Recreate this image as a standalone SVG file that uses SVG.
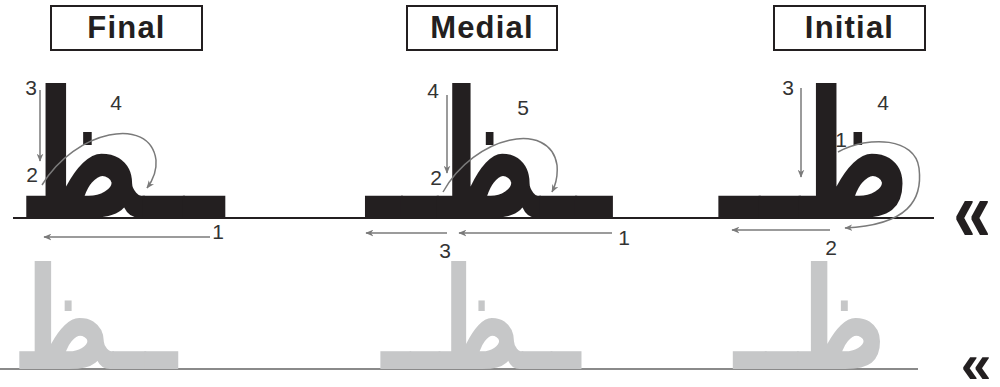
<svg xmlns="http://www.w3.org/2000/svg" width="1000" height="387" viewBox="0 0 1000 387">
<defs>
<style>
.title{font-family:"Liberation Sans",Arial,sans-serif;font-weight:bold;font-size:31px;letter-spacing:1.2px;fill:#231f20;text-anchor:middle}
.box{fill:#fff;stroke:#231f20;stroke-width:2}
.num{font-family:"Liberation Sans",Arial,sans-serif;font-size:21px;fill:#333;text-anchor:middle}
.ar{font-family:"DejaVu Sans",sans-serif;font-weight:bold;font-size:178px;fill:#231f20;text-anchor:middle}
.arg{font-family:"DejaVu Sans",sans-serif;font-weight:bold;font-size:142px;fill:#c6c7c8;text-anchor:middle}
.arr{fill:none;stroke:#7a7a7a;stroke-width:1.5;marker-end:url(#ah)}
.chev{font-family:"Liberation Sans",Arial,sans-serif;font-weight:bold;fill:#231f20;text-anchor:middle}
</style>
<marker id="ah" viewBox="0 0 12 10" refX="11" refY="5" markerWidth="8" markerHeight="7" orient="auto" markerUnits="userSpaceOnUse">
<path d="M0,0 L12,5 L0,10 L3.5,5 z" fill="#7a7a7a"/>
</marker>
</defs>
<line x1="13" y1="218" x2="934" y2="218" stroke="#231f20" stroke-width="2"/>
<line x1="0" y1="369" x2="918" y2="369" stroke="#8a8a8a" stroke-width="2"/>
<g id="final">
<rect class="box" x="51" y="6" width="151" height="44"/>
<text class="title" x="126.5" y="38">Final</text>
<text class="ar" transform="translate(121,218) scale(0.66,1)">ــظ</text>
<text class="arg" transform="translate(95,369) scale(0.66,1)">ــظ</text>
</g>
<g id="medial">
<rect class="box" x="407" y="6" width="150" height="44"/>
<text class="title" x="482" y="38">Medial</text>
<text class="ar" transform="translate(489,218) scale(0.59,1)">ــظــ</text>
<text class="arg" transform="translate(481,369) scale(0.6,1)">ــظــ</text>
</g>
<g id="initial">
<rect class="box" x="774" y="6" width="151" height="44"/>
<text class="title" x="849.5" y="38">Initial</text>
<text class="ar" transform="translate(815,218) scale(0.66,1)">ظــ</text>
<text class="arg" transform="translate(810,369) scale(0.66,1)">ظــ</text>
</g>
<g id="connectors">
<path class="arr" d="M40,90 V161"/>
<path class="arr" d="M42,185 C75,130 150,115 156,160 C157,172 153,180 147,188"/>
<path class="arr" d="M210,237 H44"/>
<path class="arr" d="M447,95 V173"/>
<path class="arr" d="M443,192 C475,135 550,120 557,165 C558,176 556,184 552,192"/>
<path class="arr" d="M612,233 H459"/>
<path class="arr" d="M447,233 H366"/>
<path class="arr" d="M801,88 V177"/>
<path class="arr" d="M838,152 C870,135 915,138 919,168 C923,200 908,225 845,228"/>
<path class="arr" d="M830,230 H732"/>
</g>
<g id="labels">
<text class="num" x="31" y="95">3</text>
<text class="num" x="116" y="110">4</text>
<text class="num" x="32" y="182">2</text>
<text class="num" x="218" y="239">1</text>
<text class="num" x="433" y="98">4</text>
<text class="num" x="523" y="115">5</text>
<text class="num" x="436" y="185">2</text>
<text class="num" x="624" y="245">1</text>
<text class="num" x="445" y="258">3</text>
<text class="num" x="788" y="95">3</text>
<text class="num" x="883" y="110">4</text>
<text class="num" x="841" y="147">1</text>
<text class="num" x="831" y="255">2</text>
</g>
<g id="dir">
<text class="chev" transform="translate(972,241) scale(0.77,1)" font-size="88">«</text>
<text class="chev" x="976" y="383" font-size="55">«</text>
</g>
</svg>
